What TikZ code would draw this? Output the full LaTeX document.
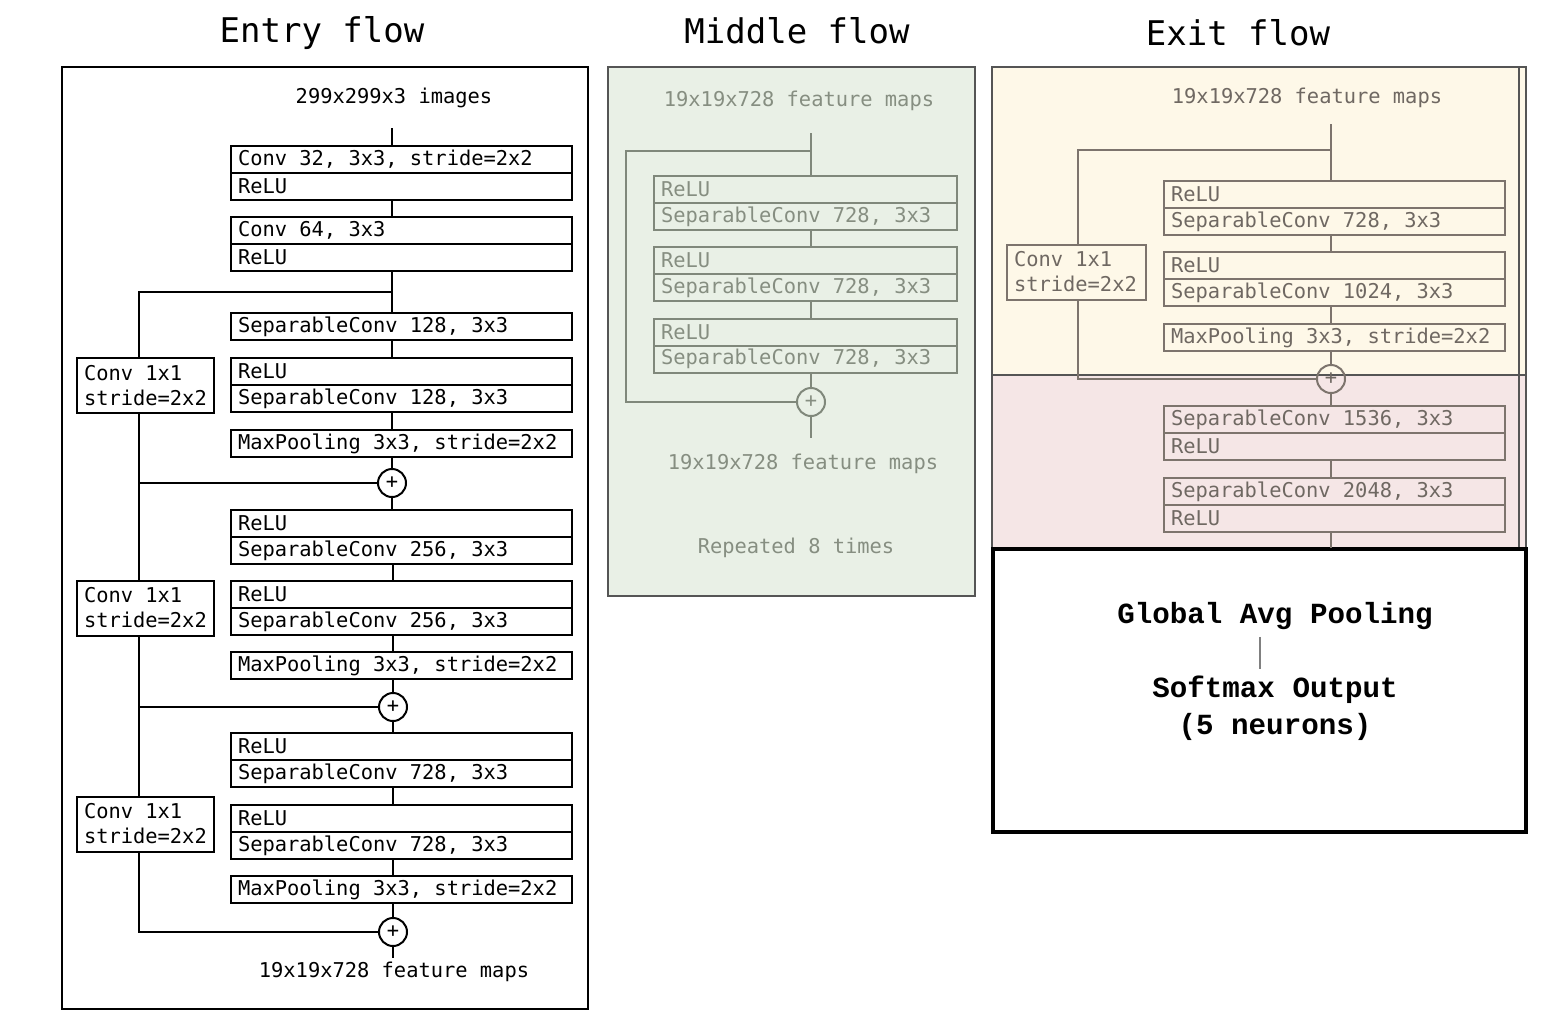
\documentclass[tikz,border=0pt]{standalone}
\usepackage{fontspec}
\setmonofont{DejaVu Sans Mono}
\newfontfamily\courfont{Liberation Mono}
\usepackage{xcolor}
\usepackage{tikz}
\usetikzlibrary{positioning, calc}

\definecolor{midfill}{HTML}{E9F0E6}
\definecolor{midline}{HTML}{80887B}
\definecolor{midtext}{HTML}{868E81}
\definecolor{exfill}{HTML}{FEF8E8}
\definecolor{pkfill}{HTML}{F5E6E6}
\definecolor{exline}{HTML}{7D746D}
\definecolor{extext}{HTML}{6F6862}
\definecolor{frame}{HTML}{555555}

\newcommand{\rowfont}{\ttfamily\fontsize{10.2}{12.5}\selectfont}
\newcommand{\headfont}{\ttfamily\fontsize{17}{20}\selectfont}
\newcommand{\outfont}{\courfont\bfseries\fontsize{14.6}{18.5}\selectfont}

\begin{document}
\begin{tikzpicture}[
    x=0.5pt, y=-0.5pt,
    row/.style={draw, line width=1pt, outer sep=0pt, minimum height=13.5pt, text width=163.5pt, inner xsep=3.5pt, inner ysep=0pt, align=flush left, font=\rowfont},
    mrow/.style={row, text width=144.5pt, draw=midline, text=midtext},
    xrow/.style={row, draw=exline, text=extext},
    sbox/.style={draw, line width=1pt, outer sep=0pt, minimum height=27.5pt, text width=61.5pt, inner xsep=3.5pt, inner ysep=0pt, align=flush left, font=\rowfont},
    add/.style={draw, circle, line width=1pt, minimum size=14pt, inner sep=0pt, font=\rowfont},
    lbl/.style={font=\rowfont},
    title/.style={font=\headfont},
    link/.style={line width=1pt}
]
\useasboundingbox (0,0) rectangle (1544,1014);

% panels
\draw[line width=1pt] (62,67) rectangle (588,1009);
\filldraw[fill=midfill, draw=frame, line width=1.3pt] (608,67) rectangle (975,596);
\fill[exfill] (992,67) rectangle (1526,375);
\fill[pkfill] (992,375) rectangle (1526,548);
\draw[frame, line width=1.2pt] (992,548) -- (992,67) -- (1526,67) -- (1526,548);
\draw[frame, line width=1pt] (992,375) -- (1526,375);
\draw[frame, line width=0.8pt] (1519,67) -- (1519,548);
\draw[line width=2pt] (993,549) rectangle (1526,832);

\node[title] (tentry) at (322,33) {Entry flow};
\node[title] (tmid) at (797,31) {Middle flow};
\node[title] (texit) at (1238,33) {Exit flow};

% entry flow
\coordinate (etrunk) at (392,0);
\coordinate (eleft) at (139,0);
\node[lbl] (ein) at (394,98) {299x299x3 images};
\coordinate (einend) at (392,128);
\node[row] (c32) at (401.5,159.5) {Conv 32, 3x3, stride=2x2};
\node[row, below=0pt of c32] (c32r) {ReLU};
\node[row] (c64) at (401.5,230.5) {Conv 64, 3x3};
\node[row, below=0pt of c64] (c64r) {ReLU};
\coordinate (esplit) at (392,292);
\node[row] (s128a) at (401.5,326.5) {SeparableConv 128, 3x3};
\node[row] (r128) at (401.5,371.5) {ReLU};
\node[row, below=0pt of r128] (s128b) {SeparableConv 128, 3x3};
\node[row] (emp1) at (401.5,443.5) {MaxPooling 3x3, stride=2x2};
\node[add] (eadd1) at (392,483) {+};
\node[row] (r256a) at (401.5,523.5) {ReLU};
\node[row, below=0pt of r256a] (s256a) {SeparableConv 256, 3x3};
\node[row] (r256b) at (401.5,594.5) {ReLU};
\node[row, below=0pt of r256b] (s256b) {SeparableConv 256, 3x3};
\node[row] (emp2) at (401.5,665.5) {MaxPooling 3x3, stride=2x2};
\node[add] (eadd2) at (393,707) {+};
\node[row] (r728a) at (401.5,746.5) {ReLU};
\node[row, below=0pt of r728a] (s728a) {SeparableConv 728, 3x3};
\node[row] (r728b) at (401.5,818.5) {ReLU};
\node[row, below=0pt of r728b] (s728b) {SeparableConv 728, 3x3};
\node[row] (emp3) at (401.5,889.5) {MaxPooling 3x3, stride=2x2};
\node[add] (eadd3) at (393,932) {+};
\coordinate (eoutend) at (393,958);
\node[lbl] (eout) at (394,972) {19x19x728 feature maps};

\node[sbox] (esc1) at (145.5,385.5) {Conv 1x1\\stride=2x2};
\node[sbox] (esc2) at (145.5,608) {Conv 1x1\\stride=2x2};
\node[sbox] (esc3) at (145.5,824) {Conv 1x1\\stride=2x2};

\draw[link] (einend) -- (c32.north -| etrunk);
\draw[link] (c32r.south -| etrunk) -- (c64.north -| etrunk);
\draw[link] (c64r.south -| etrunk) -- (s128a.north -| etrunk);
\draw[link] (esplit) -| (esc1.north -| eleft);
\draw[link] (s128a.south -| etrunk) -- (r128.north -| etrunk);
\draw[link] (s128b.south -| etrunk) -- (emp1.north -| etrunk);
\draw[link] (emp1.south -| etrunk) -- (eadd1);
\draw[link] (esc1.south -| eleft) |- (eadd1);
\draw[link] (esc1.south -| eleft) -- (esc2.north -| eleft);
\draw[link] (eadd1) -- (r256a.north -| eadd1);
\draw[link] (s256a.south -| eadd2) -- (r256b.north -| eadd2);
\draw[link] (s256b.south -| eadd2) -- (emp2.north -| eadd2);
\draw[link] (emp2.south -| eadd2) -- (eadd2);
\draw[link] (esc2.south -| eleft) |- (eadd2);
\draw[link] (esc2.south -| eleft) -- (esc3.north -| eleft);
\draw[link] (eadd2) -- (r728a.north -| eadd2);
\draw[link] (s728a.south -| eadd2) -- (r728b.north -| eadd2);
\draw[link] (s728b.south -| eadd2) -- (emp3.north -| eadd2);
\draw[link] (emp3.south -| eadd3) -- (eadd3);
\draw[link] (esc3.south -| eleft) |- (eadd3);
\draw[link] (eadd3) -- (eoutend);

% middle flow
\coordinate (mtrunk) at (811,0);
\node[lbl, text=midtext] (min) at (799,101) {19x19x728 feature maps};
\coordinate (mtop) at (811,133);
\coordinate (msplit) at (811,151);
\coordinate (mleft) at (626,151);
\node[mrow] (m1a) at (805.5,189.5) {ReLU};
\node[mrow, below=0pt of m1a] (m1b) {SeparableConv 728, 3x3};
\node[mrow] (m2a) at (805.5,260.5) {ReLU};
\node[mrow, below=0pt of m2a] (m2b) {SeparableConv 728, 3x3};
\node[mrow] (m3a) at (805.5,332) {ReLU};
\node[mrow, below=0pt of m3a] (m3b) {SeparableConv 728, 3x3};
\node[add, draw=midline, text=midtext] (madd) at (811,402) {+};
\coordinate (mbot) at (811,438);
\node[lbl, text=midtext] (mout) at (803,464) {19x19x728 feature maps};
\node[lbl, text=midtext] (mrep) at (796,548) {Repeated 8 times};

\draw[link, midline] (mtop) -- (m1a.north -| mtrunk);
\draw[link, midline] (msplit) -- (mleft) |- (madd);
\draw[link, midline] (m1b.south -| mtrunk) -- (m2a.north -| mtrunk);
\draw[link, midline] (m2b.south -| mtrunk) -- (m3a.north -| mtrunk);
\draw[link, midline] (m3b.south -| mtrunk) -- (madd);
\draw[link, midline] (madd) -- (mbot);

% exit flow
\coordinate (xtrunk) at (1331,0);
\coordinate (xleft) at (1078,0);
\node[lbl, text=extext] (xin) at (1307,98) {19x19x728 feature maps};
\coordinate (xtop) at (1331,124);
\coordinate (xsplit) at (1331,150);
\node[xrow] (x1a) at (1334.5,194.5) {ReLU};
\node[xrow, below=0pt of x1a] (x1b) {SeparableConv 728, 3x3};
\node[xrow] (x2a) at (1334.5,265.5) {ReLU};
\node[xrow, below=0pt of x2a] (x2b) {SeparableConv 1024, 3x3};
\node[xrow] (xmp) at (1334.5,337.5) {MaxPooling 3x3, stride=2x2};
\node[sbox, draw=exline, text=extext, text width=62.5pt] (xsc) at (1076.5,272) {Conv 1x1\\stride=2x2};
\node[add, draw=exline, text=extext] (xadd) at (1331,379) {+};
\node[xrow] (x3a) at (1334.5,419.5) {SeparableConv 1536, 3x3};
\node[xrow, below=0pt of x3a] (x3b) {ReLU};
\node[xrow] (x4a) at (1334.5,491.5) {SeparableConv 2048, 3x3};
\node[xrow, below=0pt of x4a] (x4b) {ReLU};
\coordinate (xbot) at (1331,548);

\draw[link, exline] (xtop) -- (x1a.north -| xtrunk);
\draw[link, exline] (xsplit) -| (xsc.north -| xleft);
\draw[link, exline] (x1b.south -| xtrunk) -- (x2a.north -| xtrunk);
\draw[link, exline] (x2b.south -| xtrunk) -- (xmp.north -| xtrunk);
\draw[link, exline] (xmp.south -| xtrunk) -- (xadd);
\draw[link, exline] (xsc.south -| xleft) |- (xadd);
\draw[link, exline] (xadd) -- (x3a.north -| xtrunk);
\draw[link, exline] (x3b.south -| xtrunk) -- (x4a.north -| xtrunk);
\draw[link, exline] (x4b.south -| xtrunk) -- (xbot);

% output
\node[font=\outfont] (gap) at (1275,616) {Global Avg Pooling};
\node[font=\outfont, align=center] (soft) at (1275,708) {Softmax Output\\(5 neurons)};
\coordinate (olink) at (1260,0);
\draw[gray, line width=0.6pt] (gap.south -| olink) -- (soft.north -| olink);

\end{tikzpicture}
\end{document}
